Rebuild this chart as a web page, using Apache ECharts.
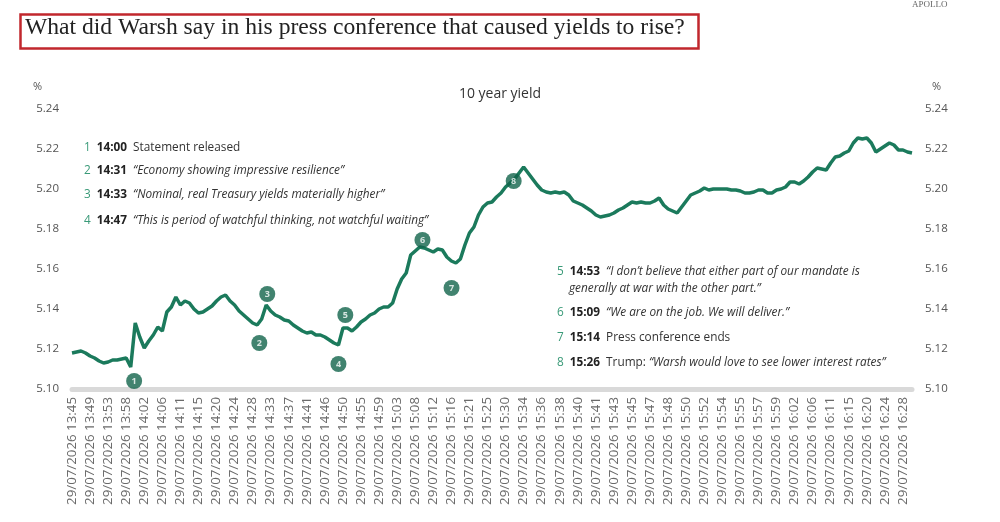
<!DOCTYPE html>
<html><head><meta charset="utf-8">
<script src="https://cdn.jsdelivr.net/npm/echarts@6/dist/echarts.min.js"></script>
<style>html,body{margin:0;padding:0;background:#fff}#c{width:1000px;height:522px}</style>
</head><body><div id="c"></div>
<script>
const datePart = '29/07/2026';
const tickLabels = ['13:45','13:49','13:53','13:58','14:02','14:06','14:11','14:15','14:20','14:24','14:28','14:33','14:37','14:41','14:46','14:50','14:55','14:59','15:03','15:08','15:12','15:16','15:21','15:25','15:30','15:34','15:36','15:38','15:40','15:41','15:43','15:45','15:47','15:48','15:50','15:52','15:54','15:55','15:57','15:59','16:02','16:06','16:11','16:15','16:20','16:24','16:28'];
// yield readings, one every quarter of a tick-label step
const step = 0.25;
const yields = [
5.118,5.1185,5.119,5.118,5.1165,5.1155,5.114,5.113,5.1135,5.1145,
5.1145,5.115,5.1155,5.111,5.133,5.126,5.1205,5.124,5.127,5.131,
5.129,5.1385,5.141,5.146,5.142,5.144,5.143,5.140,5.138,5.1385,
5.140,5.1415,5.144,5.146,5.147,5.144,5.142,5.139,5.137,5.135,
5.133,5.132,5.135,5.142,5.139,5.137,5.136,5.1345,5.134,5.132,
5.1305,5.129,5.128,5.1285,5.127,5.127,5.126,5.1245,5.123,5.122,
5.1305,5.1305,5.129,5.131,5.1335,5.135,5.137,5.138,5.140,5.141,
5.141,5.143,5.150,5.155,5.158,5.167,5.169,5.171,5.1705,5.1695,
5.1685,5.170,5.1695,5.166,5.164,5.163,5.165,5.172,5.178,5.181,
5.187,5.191,5.193,5.1935,5.196,5.198,5.201,5.203,5.205,5.208,
5.211,5.208,5.205,5.202,5.1995,5.1985,5.198,5.1985,5.198,5.1985,
5.197,5.194,5.193,5.192,5.1905,5.189,5.187,5.186,5.1865,5.187,
5.188,5.1895,5.1905,5.192,5.1935,5.193,5.1935,5.193,5.193,5.194,
5.1955,5.192,5.190,5.189,5.188,5.191,5.194,5.197,5.198,5.199,
5.2005,5.1995,5.200,5.200,5.200,5.200,5.1995,5.1995,5.199,5.198,
5.198,5.1985,5.1995,5.1995,5.198,5.198,5.1995,5.200,5.201,5.2035,
5.2035,5.2025,5.204,5.206,5.2085,5.2105,5.210,5.2095,5.213,5.216,
5.2165,5.218,5.219,5.223,5.2255,5.225,5.2255,5.223,5.2185,5.220,
5.2215,5.223,5.222,5.2195,5.2195,5.2185,5.218
];
const markerLabels = ['1','2','3','4','5','6','7','8'];
const markerPos = [3.44,10.37,10.81,14.75,15.13,19.40,21.01,24.45];
const markerVal = [5.104,5.123,5.1475,5.1125,5.137,5.1745,5.1505,5.204];
// [number, time, plain text, quoted (italic) text]
const notesLeft = [
  ['1','14:00','Statement released',''],
  ['2','14:31','','\u201cEconomy showing impressive resilience\u201d'],
  ['3','14:33','','\u201cNominal, real Treasury yields materially higher\u201d'],
  ['4','14:47','','\u201cThis is period of watchful thinking, not watchful waiting\u201d']
];
const notesRight = [
  ['5','14:53','','\u201cI don\u2019t believe that either part of our mandate is'],
  ['','','','generally at war with the other part.\u201d'],
  ['6','15:09','','\u201cWe are on the job. We will deliver.\u201d'],
  ['7','15:14','Press conference ends',''],
  ['8','15:26','Trump: ','\u201cWarsh would love to see lower interest rates\u201d']
];

const FONT = '"Open Sans","Noto Sans",sans-serif';
const GREEN = '#1b7a5c';
const FS = 11.8;
const rich = {
  n:{fill:'#3a9a78',fontSize:FS,fontFamily:FONT,padding:[0,6,0,0]},
  t:{fill:'#222',fontSize:FS,fontWeight:'bold',fontFamily:FONT,padding:[0,6,0,0]},
  p:{fill:'#333',fontSize:FS,fontFamily:FONT},
  q:{fill:'#333',fontSize:FS,fontStyle:'italic',fontFamily:FONT}
};
function noteText(r){
  return (r[0]?'{n|'+r[0]+'}{t|'+r[1]+'}':'') + (r[2]?'{p|'+r[2]+'}':'') + (r[3]?'{q|'+r[3]+'}':'');
}
const graphics = [
  {type:'rect',left:18,top:12,shape:{width:678,height:34},style:{fill:'none',stroke:'#c1272d',lineWidth:2.5}},
  {type:'text',left:25,top:16,style:{text:'What did Warsh say in his press conference that caused yields to rise?',font:'23.6px "Liberation Serif","DejaVu Serif",serif',fill:'#222'}},
  {type:'text',left:912,top:0,style:{text:'APOLLO',font:'9px "Liberation Serif",serif',fill:'#666'}},
  {type:'text',left:33,top:81,style:{text:'%',font:'11px '+FONT,fill:'#555'}},
  {type:'text',left:932,top:81,style:{text:'%',font:'11px '+FONT,fill:'#555'}}
];
const leftY = [151,174,198,224];
notesLeft.forEach((r,i)=>graphics.push({type:'text',left:84,top:leftY[i]-9,style:{text:noteText(r),rich:rich}}));
const rightY = [275,292,316,341,366];
notesRight.forEach((r,i)=>graphics.push({type:'text',left:r[0]?557:569,top:rightY[i]-9,style:{text:noteText(r),rich:rich}}));

const chart = echarts.init(document.getElementById('c'),null,{renderer:'canvas'});
const yAxisBase = {type:'value',min:5.10,max:5.24,interval:0.02,axisLine:{show:false},axisTick:{show:false},splitLine:{show:false},
  axisLabel:{color:'#555',fontSize:11.5,fontFamily:FONT,margin:13,formatter:v=>v.toFixed(2)}};
chart.setOption({
  animation:false,
  title:{text:'10 year yield',left:'center',top:82,textStyle:{fontSize:14,fontWeight:'normal',color:'#333',fontFamily:FONT}},
  grid:{left:72,right:88,top:109,bottom:133,outerBoundsMode:'none',containLabel:false},
  xAxis:{type:'value',min:0,max:46.5,interval:1,splitLine:{show:false},axisTick:{show:false},
    axisLine:{show:true,lineStyle:{color:'#d9d9d9',width:5}},
    axisLabel:{rotate:90,color:'#6a6a6a',fontSize:13.3,fontFamily:FONT,margin:8,hideOverlap:false,showMinLabel:true,showMaxLabel:true,
      formatter:v=>Number.isInteger(v)&&tickLabels[v]?datePart+' '+tickLabels[v]:''}},
  yAxis:[Object.assign({position:'left'},yAxisBase),
         Object.assign({position:'right'},yAxisBase)],
  graphic:graphics,
  series:[
    {type:'line',data:yields.map((v,i)=>[i*step,v]),showSymbol:false,symbol:'none',lineStyle:{color:GREEN,width:3.5},z:2},
    {type:'scatter',data:markerPos.map((x,i)=>[x,markerVal[i]]),symbolSize:16,itemStyle:{color:'#11644b'},z:3,
      label:{show:true,position:'inside',formatter:p=>markerLabels[p.dataIndex],color:'#fff',fontSize:9,fontWeight:'bold',fontFamily:FONT}}
  ]
});
</script></body></html>
